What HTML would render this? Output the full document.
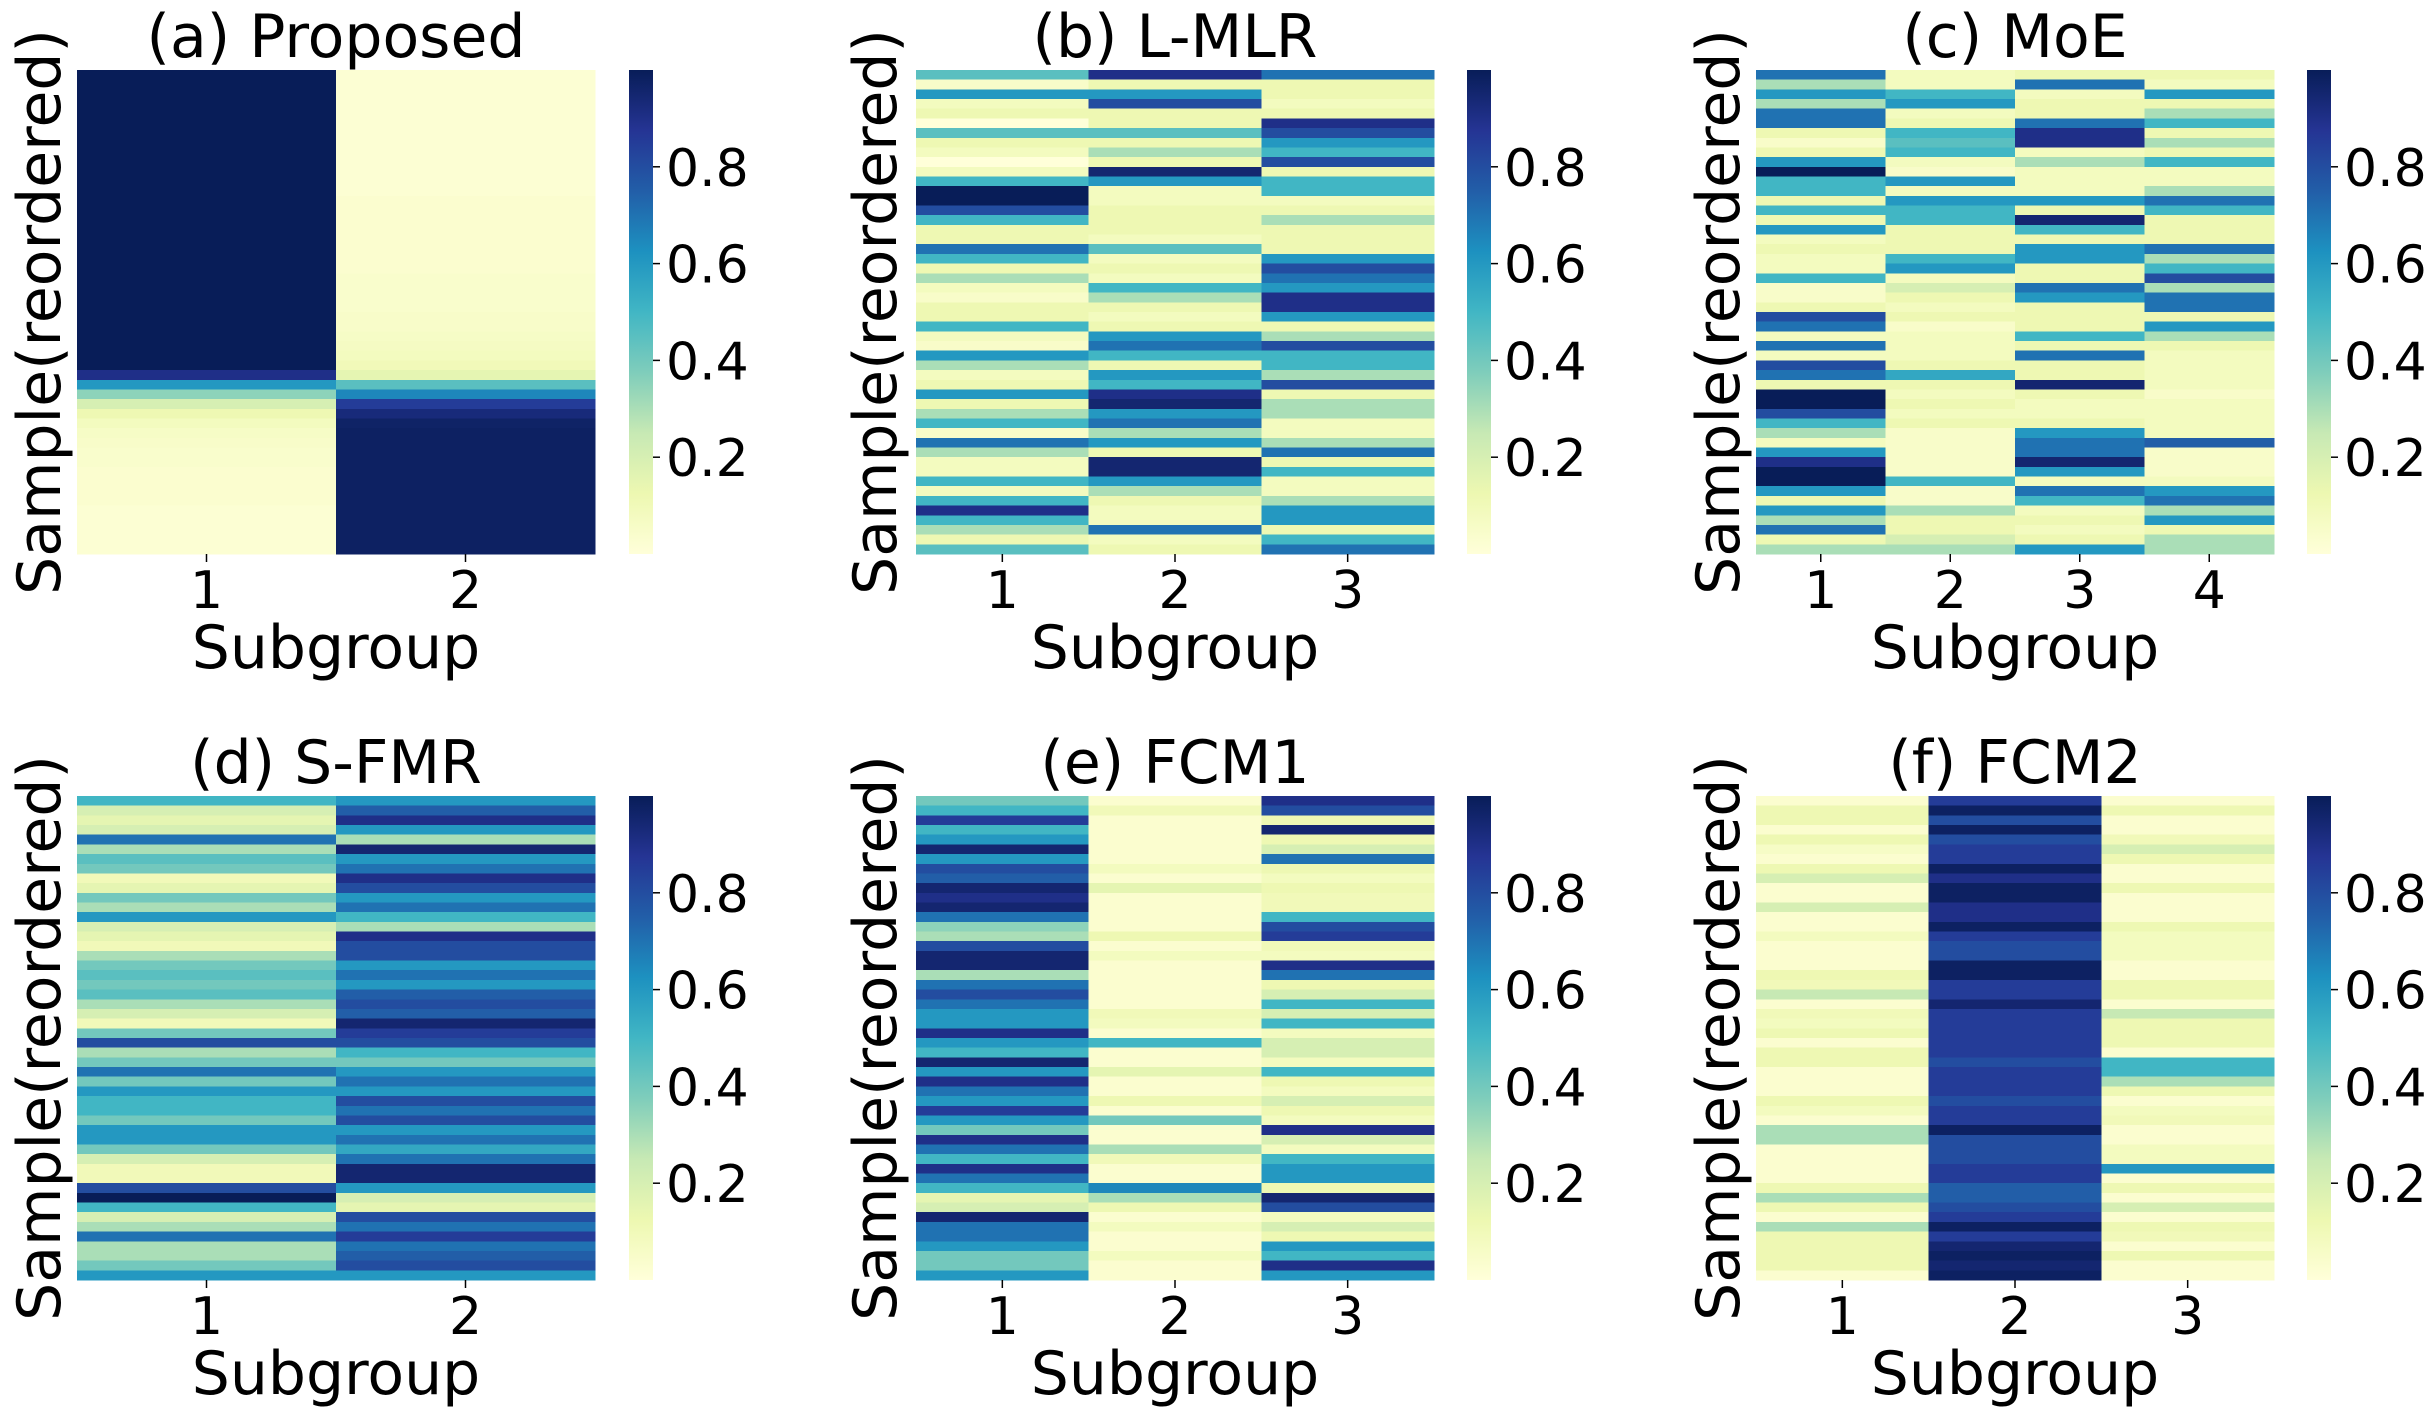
<!DOCTYPE html>
<html><head><meta charset="utf-8"><style>
html,body{margin:0;padding:0;background:#fff;}
svg{display:block;}
text{font-family:"DejaVu Sans","Liberation Sans",sans-serif;fill:#000;}
</style></head><body>
<svg id="fig" width="2436" height="1417" viewBox="0 0 2436 1417" xmlns="http://www.w3.org/2000/svg">
<defs>
<linearGradient id="ylgnbu" x1="0" y1="1" x2="0" y2="0">
<stop offset="0" stop-color="#ffffd9"/><stop offset="0.125" stop-color="#edf8b1"/><stop offset="0.25" stop-color="#c7e9b4"/><stop offset="0.375" stop-color="#7fcdbb"/><stop offset="0.5" stop-color="#41b6c4"/><stop offset="0.625" stop-color="#1d91c0"/><stop offset="0.75" stop-color="#225ea8"/><stop offset="0.875" stop-color="#253494"/><stop offset="1" stop-color="#081d58"/>
</linearGradient>
</defs>
</svg>
<script>
// ---- data ----
const titles = ["(a) Proposed","(b) L-MLR","(c) MoE","(d) S-FMR","(e) FCM1","(f) FCM2"];
const cbarTicks = [0.2,0.4,0.6,0.8];
const cbarTickLabels = ["0.2","0.4","0.6","0.8"];

const a1 = [1,1,1,1,1,1,1,1,1,1,1,1,1,1,1,1,1,1,1,1,1,1,1,1,1,1,1,1,1,1,1,.9,.6,.35,.2,.12,.08,.06,.05,.04,.04,.03,.03,.03,.03,.02,.02,.02,.02,.02];
const a2 = [.02,.02,.02,.02,.02,.02,.02,.02,.02,.02,.02,.02,.02,.03,.03,.03,.03,.03,.03,.03,.03,.04,.04,.04,.04,.05,.05,.06,.07,.08,.1,.15,.45,.65,.85,.93,.97,.98,.98,.98,.98,.98,.98,.98,.98,.98,.98,.98,.98,.98];

const b1 = [.45,.05,.6,.08,.12,0,.45,.12,.08,0,.08,.5,1,1,.8,.5,.12,.12,.7,.5,.12,.3,.08,.05,.12,.12,.5,.08,.05,.6,.3,.08,.12,.6,.12,.3,.5,.05,.7,.3,.08,.08,.5,.08,.5,.9,.5,.3,.12,.45];
const b2 = [.9,.12,.6,.8,.12,.12,.45,.12,.3,.12,.95,.6,.08,.08,.12,.12,.12,.08,.45,.08,.12,.08,.5,.3,.12,.08,.12,.6,.7,.5,.12,.6,.5,.9,.95,.6,.7,.3,.6,.12,.95,.95,.6,.3,.12,.08,.08,.7,.08,.12];
const b3 = [.7,.12,.12,.08,.12,.9,.8,.6,.5,.8,.12,.5,.5,.08,.12,.3,.12,.12,.12,.6,.8,.7,.6,.9,.9,.6,.12,.3,.8,.5,.5,.3,.8,.12,.3,.3,.08,.08,.3,.7,.12,.5,.08,.08,.3,.6,.6,.12,.5,.7];

const c1 = [.7,.3,.6,.3,.7,.7,.12,.05,.12,.6,1,.5,.5,.12,.5,.12,.6,.08,.12,.08,.08,.5,.05,.05,.12,.8,.7,.08,.7,.08,.8,.7,.12,1,1,.8,.5,.3,.08,.6,.9,1,1,.6,.12,.6,.3,.7,.12,.3];
const c2 = [.08,.08,.5,.6,.08,.12,.5,.45,.5,.08,.05,.6,.08,.6,.5,.5,.12,.12,.12,.5,.6,.08,.2,.12,.08,.12,.05,.08,.08,.08,.12,.55,.12,.08,.12,.08,.12,.05,.05,.05,.05,.05,.5,.05,.05,.3,.12,.12,.2,.3];
const c3 = [.12,.7,.08,.12,.12,.7,.9,.9,.08,.3,.08,.08,.08,.6,.12,.95,.5,.12,.6,.6,.12,.12,.7,.6,.12,.12,.12,.5,.12,.7,.12,.12,.95,.12,.08,.08,.12,.6,.7,.7,.95,.6,.08,.7,.5,.08,.12,.08,.12,.6];
const c4 = [.12,.08,.6,.12,.3,.5,.12,.3,.12,.5,.08,.08,.3,.7,.5,.12,.12,.12,.7,.3,.5,.8,.3,.7,.7,.12,.6,.3,.12,.08,.08,.08,.08,.05,.08,.08,.08,.08,.75,.05,.05,.05,.08,.6,.7,.3,.6,.12,.3,.3];

const d1 = [.5,.2,.15,.2,.7,.3,.45,.4,.1,.15,.4,.3,.6,.2,.15,.1,.3,.4,.45,.4,.45,.3,.2,.1,.4,.8,.3,.4,.7,.4,.6,.5,.5,.4,.6,.6,.4,.2,.1,.1,.8,1,.5,.2,.3,.7,.3,.3,.4,.6];
const d2 = [.6,.75,.9,.6,.3,.95,.6,.7,.9,.8,.6,.7,.5,.3,.9,.8,.8,.6,.7,.6,.75,.8,.75,.95,.85,.8,.5,.4,.6,.7,.6,.8,.7,.8,.6,.7,.55,.7,.95,.95,.6,.2,.15,.8,.7,.85,.7,.75,.8,.6];

const e1 = [.4,.5,.85,.5,.6,.95,.6,.8,.75,.95,.9,.95,.7,.35,.3,.8,.95,.95,.3,.7,.8,.7,.6,.6,.9,.6,.5,.95,.6,.9,.7,.6,.85,.6,.4,.9,.7,.5,.9,.7,.5,.15,.2,.95,.7,.7,.6,.4,.4,.6];
const e2 = [.03,.1,.03,.03,.03,.03,.03,.08,.03,.15,.03,.03,.03,.03,.12,.03,.08,.03,.03,.03,.03,.03,.1,.08,.03,.5,.03,.03,.15,.03,.03,.12,.03,.4,.03,.03,.3,.1,.03,.03,.65,.3,.12,.03,.08,.03,.03,.08,.03,.03];
const e3 = [.9,.8,.12,.95,.12,.2,.7,.12,.08,.12,.1,.1,.5,.8,.85,.1,.08,.9,.7,.12,.2,.5,.2,.5,.08,.2,.2,.08,.5,.12,.08,.2,.12,.08,.9,.2,.08,.5,.6,.6,.12,.95,.8,.08,.2,.12,.6,.5,.9,.6];

const f1 = [.03,.12,.12,.03,.12,.06,.03,.12,.2,.03,.03,.2,.03,.03,.08,.03,.03,.03,.12,.1,.25,.03,.1,.08,.12,.03,.12,.12,.03,.03,.03,.12,.08,.03,.3,.3,.03,.03,.03,.03,.12,.3,.12,.03,.3,.12,.12,.12,.12,.03];
const f2 = [.85,.98,.8,.98,.8,.85,.85,.98,.9,.98,.98,.9,.9,.98,.85,.8,.8,.98,.98,.85,.85,.95,.85,.85,.85,.85,.85,.8,.85,.85,.85,.8,.85,.85,.98,.8,.8,.8,.85,.85,.75,.75,.8,.85,.98,.85,.95,.98,.95,.98];
const f3 = [.03,.12,.03,.03,.1,.2,.12,.03,.03,.12,.03,.03,.03,.12,.08,.08,.08,.03,.03,.12,.12,.03,.25,.12,.12,.12,.03,.5,.5,.3,.12,.03,.08,.1,.03,.03,.08,.08,.6,.03,.12,.03,.2,.03,.12,.1,.03,.12,.03,.03];

const panelData = [[a1,a2],[b1,b2,b3],[c1,c2,c3,c4],[d1,d2],[e1,e2,e3],[f1,f2,f3]];

// ---- layout ----
const colHeatX = [77, 916, 1756];
const colCbarX = [629, 1467, 2307];
const rowTop = [70, 796];
const HW = 518, HH = 484, CBW = 24;
const ylabX = [60, 896, 1739];
const cbLabX = [666, 1504, 2344];

const stops = [[255,255,217],[237,248,177],[199,233,180],[127,205,187],[65,182,196],[29,145,192],[34,94,168],[37,52,148],[8,29,88]];
function cmap(v){
  v = Math.max(0, Math.min(1, v));
  const p = v*8, i = Math.min(7, Math.floor(p)), t = p - i;
  const a = stops[i], b = stops[i+1];
  return 'rgb(' + [0,1,2].map(k => Math.round(a[k] + (b[k]-a[k])*t)).join(',') + ')';
}
const NS = 'http://www.w3.org/2000/svg';
const svg = document.getElementById('fig');
function mk(tag, attrs, parent){
  const e = document.createElementNS(NS, tag);
  for (const k in attrs) e.setAttribute(k, attrs[k]);
  (parent || svg).appendChild(e);
  return e;
}

panelData.forEach((cols, pi) => {
  const ci = pi % 3, ri = Math.floor(pi / 3);
  const x0 = colHeatX[ci], y0 = rowTop[ri];
  const g = mk('g', {});
  
  
  const nCol = cols.length;
  const cw = HW / nCol;
  const xScale = j => x0 + j * cw;
  const hm = mk('g', {'shape-rendering':'crispEdges'}, g);
  
  
  cols.forEach((vals, j) => {
    const n = vals.length, rh = HH / n;
    const yScale = i => y0 + i * rh;
    vals.forEach((v, i) => {
      const r = mk('rect', {x: xScale(j), y: yScale(i), width: cw + 0.5, height: rh + 0.6, fill: cmap(v)}, hm);
      
      
    });
  });
  cols.forEach((vals, j) => {
    const cx = xScale(j) + cw / 2;
    mk('line', {x1: cx, x2: cx, y1: y0 + HH, y2: y0 + HH + 8, stroke: '#000', 'stroke-width': 1.5}, g);
    const t = mk('text', {x: cx, y: y0 + HH + 54, 'font-size': 52, 'text-anchor': 'middle'}, g);
    t.textContent = String(j + 1);
    
    
  });
  const tt = mk('text', {x: x0 + HW / 2, y: y0 - 13, 'font-size': 60, 'text-anchor': 'middle'}, g);
  tt.textContent = titles[pi];
  
  
  const xl = mk('text', {x: x0 + HW / 2, y: y0 + HH + 114, 'font-size': 60, 'text-anchor': 'middle'}, g);
  xl.textContent = 'Subgroup';
  
  
  const yx = ylabX[ci], yy = y0 + HH / 2;
  const yl = mk('text', {x: yx, y: yy, 'font-size': 60, 'text-anchor': 'middle', transform: 'rotate(-90 ' + yx + ' ' + yy + ')'}, g);
  yl.textContent = 'Sample(reordered)';
  
  
  const cbx = colCbarX[ci];
  const cb = mk('rect', {x: cbx, y: y0, width: CBW, height: HH, fill: 'url(#ylgnbu)'}, g);
  
  
  const cbY = v => y0 + (1 - v) * HH;
  cbarTicks.forEach((v, k) => {
    const ty = cbY(v);
    mk('line', {x1: cbx + CBW, x2: cbx + CBW + 7, y1: ty, y2: ty, stroke: '#000', 'stroke-width': 1.5}, g);
    const lt = mk('text', {x: cbLabX[ci], y: ty + 19, 'font-size': 52}, g);
    lt.textContent = cbarTickLabels[k];
    
    
  });
});
</script>
</body></html>
